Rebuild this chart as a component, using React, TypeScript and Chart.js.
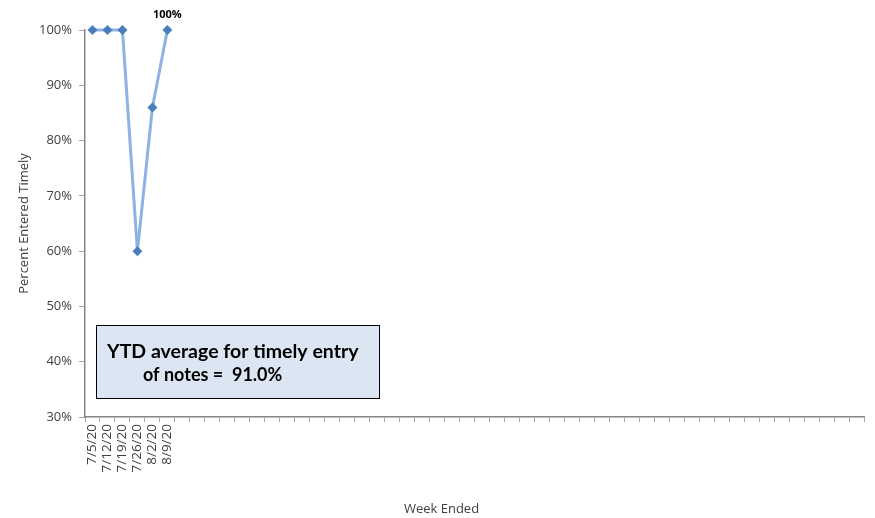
import React, { useEffect, useRef } from "react";
import { Chart, registerables } from "chart.js";

Chart.register(...registerables);

const weekLabels: string[] = ["7/5/20", "7/12/20", "7/19/20", "7/26/20", "8/2/20", "8/9/20"];
const totalWeeks = 52;
const timelyValues: (number | null)[] = [100, 100, 100, 60, 86, 100];
const yTicks = { min: 30, max: 100, step: 10 };
const boxLine1 = "YTD average for timely entry";
const boxLine2 = "of notes =  91.0%";
const xTitle = "Week Ended";
const yTitle = "Percent Entered Timely";

export default function App() {
  const ref = useRef<HTMLCanvasElement | null>(null);
  useEffect(() => {
    document.body.style.margin = "0";
    const labels: string[] = [];
    const data: (number | null)[] = [];
    for (let i = 0; i < totalWeeks; i++) {
      labels.push(weekLabels[i] ?? "");
      data.push(timelyValues[i] ?? null);
    }
    const overlay = {
      id: "overlay",
      afterDatasetsDraw(chart: any) {
        const ctx = chart.ctx;
        const meta = chart.getDatasetMeta(0);
        const lastIdx = timelyValues.length - 1;
        const pt = meta.data[lastIdx];
        ctx.save();
        ctx.font = "bold 11px 'Open Sans', sans-serif";
        ctx.fillStyle = "#000";
        ctx.textAlign = "center";
        ctx.textBaseline = "bottom";
        ctx.fillText(String(timelyValues[lastIdx]) + "%", pt.x, pt.y - 10);
        // x-axis title, centred on the canvas
        ctx.font = "13px 'Open Sans', sans-serif";
        ctx.fillStyle = "#404040";
        ctx.textBaseline = "middle";
        ctx.fillText(xTitle, chart.width / 2 + 4, chart.height - 9);
        // annotation box
        const ca = chart.chartArea;
        const bx = ca.left + 11;
        const by = ca.top + 295;
        const bw = 283;
        const bh = 73;
        ctx.fillStyle = "#dce6f2";
        ctx.fillRect(bx, by, bw, bh);
        ctx.strokeStyle = "#000";
        ctx.lineWidth = 1;
        ctx.strokeRect(bx + 0.5, by + 0.5, bw, bh);
        ctx.fillStyle = "#000";
        ctx.textAlign = "left";
        ctx.textBaseline = "alphabetic";
        ctx.font = "bold 19.5px Lato, sans-serif";
        ctx.fillText(boxLine1, bx + 11, by + 33);
        ctx.font = "bold 18px Lato, sans-serif";
        ctx.fillText(boxLine2, bx + 47, by + 56);
        ctx.restore();
      },
    };
    const chart = new Chart(ref.current as HTMLCanvasElement, {
      type: "line",
      data: {
        labels,
        datasets: [
          {
            data,
            borderColor: "#8db3e2",
            borderWidth: 3,
            pointStyle: "rectRot",
            pointRadius: 5,
            pointBackgroundColor: "#4a7ebb",
            pointBorderColor: "#4a7ebb",
            pointBorderWidth: 0,
            spanGaps: false,
            tension: 0,
            clip: false,
          } as any,
        ],
      },
      options: {
        animation: false,
        responsive: false,
        devicePixelRatio: 1,
        layout: { padding: { top: 30, right: 11, left: 16, bottom: 2 } },
        plugins: { legend: { display: false }, tooltip: { enabled: false } },
        scales: {
          x: {
            offset: true,
            grid: {
              display: true,
              drawOnChartArea: false,
              drawTicks: true,
              tickLength: 5,
              color: "#a6a6a6",
              offset: true,
            },
            border: { color: "#868686", width: 1.5 },
            ticks: {
              autoSkip: false,
              minRotation: 90,
              maxRotation: 90,
              color: "#404040",
              font: { family: "'Open Sans', sans-serif", size: 13.5 },
              padding: 2,
            },
            afterFit(scale: any) {
              scale.height = 99;
            },
          },
          y: {
            min: yTicks.min,
            max: yTicks.max,
            ticks: {
              stepSize: yTicks.step,
              callback: (v: any) => v + "%",
              color: "#404040",
              font: { family: "'Open Sans', sans-serif", size: 13 },
              padding: 7,
            },
            grid: {
              display: true,
              drawOnChartArea: false,
              drawTicks: true,
              tickLength: 6,
              color: "#a6a6a6",
            },
            border: { color: "#868686", width: 1.5 },
            title: {
              display: true,
              text: yTitle,
              color: "#404040",
              font: { family: "'Open Sans', sans-serif", size: 13 },
              padding: { top: 0, bottom: 0 },
            },
            afterFit(scale: any) {
              scale.width = 69;
            },
          },
        },
      },
      plugins: [overlay],
    });
    return () => chart.destroy();
  }, []);
  return (
    <div style={{ width: 875, height: 518 }}>
      <canvas ref={ref} width={875} height={518} style={{ display: "block" }} />
    </div>
  );
}
